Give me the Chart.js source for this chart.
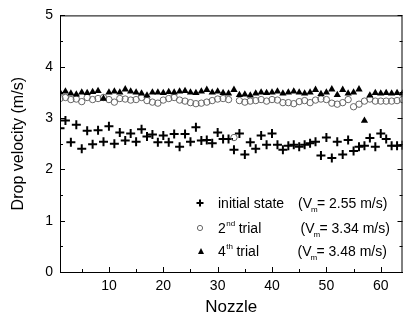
<!DOCTYPE html>
<html>
<head>
<meta charset="utf-8">
<script src="https://cdn.jsdelivr.net/npm/chart.js@4.4.1/dist/chart.umd.min.js"></script>
<style>
  html, body { margin: 0; padding: 0; background: #fff; }
  #wrap { width: 409px; height: 323px; }
</style>
</head>
<body>
<div id="wrap"><canvas id="myChart" width="409" height="323"></canvas></div>
<script>
// nozzle index 1..64
const nozzles = [1, 2, 3, 4, 5, 6, 7, 8, 9, 10, 11, 12, 13, 14, 15, 16,
    17, 18, 19, 20, 21, 22, 23, 24, 25, 26, 27, 28, 29, 30, 31, 32,
    33, 34, 35, 36, 37, 38, 39, 40, 41, 42, 43, 44, 45, 46, 47, 48,
    49, 50, 51, 52, 53, 54, 55, 56, 57, 58, 59, 60, 61, 62, 63, 64];

const initialState = [2.80, 2.95, 2.53, 2.87, 2.40, 2.75, 2.49, 2.76, 2.54, 2.84, 2.50, 2.72, 2.56, 2.70, 2.54, 2.78,
    2.64, 2.68, 2.53, 2.66, 2.53, 2.69, 2.44, 2.69, 2.54, 2.82, 2.56, 2.57, 2.51, 2.72, 2.59, 2.59,
    2.38, 2.70, 2.29, 2.53, 2.40, 2.66, 2.48, 2.70, 2.48, 2.38, 2.46, 2.48, 2.44, 2.48, 2.51, 2.54,
    2.27, 2.62, 2.22, 2.54, 2.29, 2.57, 2.36, 2.44, 2.46, 2.61, 2.44, 2.70, 2.59, 2.46, 2.46, 2.47];

const trial2 = [3.38, 3.40, 3.36, 3.37, 3.32, 3.40, 3.36, 3.38, 3.40, 3.36, 3.31, 3.38, 3.37, 3.35, 3.36, 3.40,
    3.34, 3.31, 3.29, 3.35, 3.38, 3.40, 3.35, 3.33, 3.30, 3.28, 3.29, 3.31, 3.34, 3.37, 3.38, 3.36,
    2.62, 3.34, 3.31, 3.33, 3.34, 3.36, 3.33, 3.36, 3.35, 3.30, 3.30, 3.28, 3.32, 3.34, 3.30, 3.35,
    3.37, 3.36, 3.29, 3.27, 3.30, 3.36, 3.22, 3.27, 3.33, 3.37, 3.33, 3.33, 3.33, 3.33, 3.34, 3.36];

const trial4 = [3.50, 3.52, 3.48, 3.46, 3.50, 3.49, 3.51, 3.53, 3.38, 3.50, 3.52, 3.50, 3.56, 3.52, 3.50, 3.48,
    3.44, 3.50, 3.50, 3.49, 3.51, 3.50, 3.52, 3.53, 3.50, 3.49, 3.52, 3.55, 3.50, 3.52, 3.49, 3.48,
    3.55, 3.45, 3.46, 3.44, 3.48, 3.50, 3.49, 3.50, 3.52, 3.48, 3.50, 3.52, 3.50, 3.48, 3.50, 3.55,
    3.47, 3.50, 3.56, 3.45, 3.55, 3.48, 3.50, 3.56, 2.95, 3.44, 3.49, 3.48, 3.49, 3.48, 3.49, 3.48];

const xTicks = [10, 20, 30, 40, 50, 60];
const xMinorTicks = [5, 15, 25, 35, 45, 55];
const yTicks = [0, 1, 2, 3, 4, 5];
const yMinorTicks = [0.5, 1.5, 2.5, 3.5, 4.5];

const legendNames = ['initial state', '2', '4'];
const legendSup = ['', 'nd', 'th'];
const legendMeans = ['2.55', '3.34', '3.48'];

const FONT = '"Liberation Sans", Arial, sans-serif';

const toPoints = (vals) => vals.map((v, i) => ({ x: nozzles[i], y: v }));

// frame, inward ticks and in-plot legend
const frame = {
    id: 'frame',
    afterDatasetsDraw(chart) {
        const { ctx, chartArea: a, scales: { x, y } } = chart;
        ctx.save();
        ctx.strokeStyle = '#000';
        ctx.lineWidth = 1;
        ctx.strokeRect(a.left + 0.5, a.top + 0.5, a.right - a.left - 1, a.bottom - a.top);
        ctx.beginPath();
        for (const t of xTicks) {
            const px = Math.round(x.getPixelForValue(t)) + 0.5;
            ctx.moveTo(px, a.bottom); ctx.lineTo(px, a.bottom - 5);
        }
        for (const t of xMinorTicks) {
            const px = Math.round(x.getPixelForValue(t)) + 0.5;
            ctx.moveTo(px, a.bottom); ctx.lineTo(px, a.bottom - 3);
        }
        for (const t of yTicks) {
            const py = Math.round(y.getPixelForValue(t)) + 0.5;
            ctx.moveTo(a.left, py); ctx.lineTo(a.left + 5, py);
            ctx.moveTo(a.right, py); ctx.lineTo(a.right - 5, py);
        }
        for (const t of yMinorTicks) {
            const py = Math.round(y.getPixelForValue(t)) + 0.5;
            ctx.moveTo(a.left, py); ctx.lineTo(a.left + 3, py);
            ctx.moveTo(a.right, py); ctx.lineTo(a.right - 3, py);
        }
        ctx.stroke();

        // legend
        const rows = [203, 228, 251];
        const textX = 218;
        const meanX = [298, 300.5, 297.5];
        ctx.fillStyle = '#000';
        ctx.textBaseline = 'alphabetic';
        rows.forEach((ry, i) => {
            const mx = 200;
            ctx.beginPath();
            if (i === 0) {
                ctx.lineWidth = 2;
                ctx.moveTo(mx - 3.5, ry); ctx.lineTo(mx + 3.5, ry);
                ctx.moveTo(mx, ry - 3.5); ctx.lineTo(mx, ry + 3.5);
                ctx.strokeStyle = '#000';
                ctx.stroke();
            } else if (i === 1) {
                ctx.lineWidth = 1;
                ctx.strokeStyle = '#666';
                ctx.arc(mx, ry, 2.6, 0, Math.PI * 2);
                ctx.stroke();
            } else {
                ctx.moveTo(mx - 2, ry + 3);
                ctx.lineTo(mx + 4, ry + 3);
                ctx.lineTo(mx + 1, ry - 3);
                ctx.closePath();
                ctx.fill();
            }
            const base = ry + 5;
            ctx.font = '14px ' + FONT;
            ctx.fillText(legendNames[i], textX, base);
            let tx = textX + ctx.measureText(legendNames[i]).width;
            if (legendSup[i]) {
                ctx.font = '8px ' + FONT;
                ctx.fillText(legendSup[i], tx + 0.5, base - 7);
                tx += ctx.measureText(legendSup[i]).width + 4;
                ctx.font = '14px ' + FONT;
                ctx.fillText('trial', tx, base);
            }
            // (V_m= x m/s)
            let vx = meanX[i];
            ctx.font = '14px ' + FONT;
            ctx.fillText('(V', vx, base);
            vx += ctx.measureText('(V').width;
            ctx.font = '8px ' + FONT;
            ctx.fillText('m', vx - 1, base + 4);
            vx += 5;
            ctx.font = '14px ' + FONT;
            ctx.fillText('= ' + legendMeans[i] + ' m/s)', vx, base);
        });
        ctx.restore();
    }
};

const ctx = document.getElementById('myChart');
new Chart(ctx, {
    type: 'scatter',
    plugins: [frame],
    data: {
        datasets: [
            {
                label: '4th trial',
                data: toPoints(trial4),
                pointStyle: 'triangle',
                pointRadius: 4.2,
                backgroundColor: '#000',
                borderColor: '#000',
                borderWidth: 0
            },
            {
                label: '2nd trial',
                data: toPoints(trial2),
                pointStyle: 'circle',
                pointRadius: 3.2,
                backgroundColor: 'rgba(255,255,255,0)',
                borderColor: '#666',
                borderWidth: 1
            },
            {
                label: 'initial state',
                data: toPoints(initialState),
                pointStyle: 'cross',
                pointRadius: 4.5,
                borderColor: '#000',
                borderWidth: 2
            }
        ]
    },
    options: {
        responsive: false,
        animation: false,
        events: [],
        layout: { padding: { top: 14, right: 1, left: 0, bottom: 0 } },
        plugins: { legend: { display: false }, tooltip: { enabled: false } },
        scales: {
            x: {
                type: 'linear',
                min: 1,
                max: 64,
                afterBuildTicks: (s) => { s.ticks = xTicks.map(v => ({ value: v })); },
                afterFit: (s) => { s.height = 51; },
                grid: { display: false, drawTicks: false },
                border: { display: true, color: '#000' },
                ticks: { color: '#000', padding: 6, maxRotation: 0, font: { family: FONT, size: 14 } },
                title: {
                    display: true,
                    text: 'Nozzle',
                    color: '#000',
                    padding: { top: 4, bottom: 5 },
                    font: { family: FONT, size: 17 }
                }
            },
            y: {
                min: 0,
                max: 5,
                afterBuildTicks: (s) => { s.ticks = yTicks.map(v => ({ value: v })); },
                afterFit: (s) => { s.width = 60; },
                grid: { display: false, drawTicks: false },
                border: { display: true, color: '#000' },
                ticks: { color: '#000', padding: 7, font: { family: FONT, size: 14 } },
                title: {
                    display: true,
                    text: 'Drop velocity (m/s)',
                    color: '#000',
                    padding: { top: 9, bottom: 4 },
                    font: { family: FONT, size: 16 }
                }
            }
        }
    }
});
</script>
</body>
</html>
